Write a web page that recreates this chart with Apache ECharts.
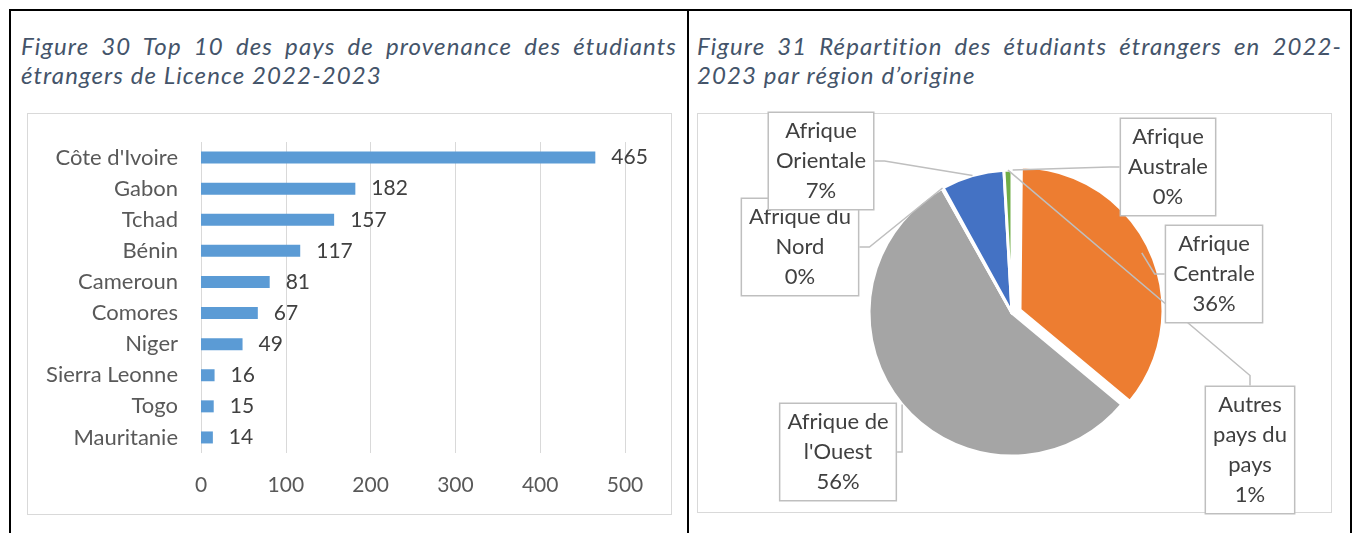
<!DOCTYPE html>
<html>
<head>
<meta charset="utf-8">
<script src="https://cdn.jsdelivr.net/npm/echarts@6/dist/echarts.min.js"></script>
<style>
  html, body { margin: 0; padding: 0; background: #fff; }
  #page { position: relative; width: 1360px; height: 533px; overflow: hidden; }
  .frame { position: absolute; left: 9px; top: 9px; width: 1339px; height: 540px;
           border: 2px solid #000; border-bottom: none; }
  .divider { position: absolute; left: 687px; top: 9px; width: 2px; height: 540px; background: #000; }
  .title { position: absolute; font-family: Lato, "DejaVu Sans", sans-serif; font-style: italic;
           font-size: 24px; color: #44546A; line-height: 29px; white-space: nowrap; letter-spacing: 1.1px; }
  .title .j { text-align: justify; text-align-last: justify; }
  .box { position: absolute; border: 1.5px solid #D9D9D9; box-sizing: border-box; }
  #chart { position: absolute; left: 0; top: 0; width: 1360px; height: 533px; }
</style>
</head>
<body>
<div id="page">
  <div class="frame"></div>
  <div class="divider"></div>
  <div class="title" style="left:21px; top:31px; width:656px;">
    <div class="j">Figure 30 Top 10 des pays de provenance des étudiants</div>
    <div>étrangers de Licence 2022-2023</div>
  </div>
  <div class="title" style="left:697px; top:31px; width:645px;">
    <div class="j">Figure 31 Répartition des étudiants étrangers en 2022-</div>
    <div>2023 par région d’origine</div>
  </div>
  <div class="box" style="left:27px; top:113px; width:645px; height:402px;"></div>
  <div class="box" style="left:697px; top:113px; width:635px; height:400px;"></div>
  <div id="chart"></div>
</div>
<script>
// Figure 30 : top 10 des pays (Licence 2022-2023)
var countries = ["Côte d'Ivoire", 'Gabon', 'Tchad', 'Bénin', 'Cameroun', 'Comores', 'Niger', 'Sierra Leonne', 'Togo', 'Mauritanie']
var studentCounts = [465, 182, 157, 117, 81, 67, 49, 16, 15, 14]
var xTicks = [0, 100, 200, 300, 400, 500]

// Figure 31 : répartition par région d'origine (parts estimées, en %)
var regions = ['Afrique Australe', 'Afrique Centrale', "Afrique de l'Ouest", 'Afrique du Nord', 'Afrique Orientale', 'Autres pays du pays']
var regionShares = [0.15, 35.9, 55.8, 0.15, 7.1, 0.9]
var regionLabels = ['Afrique\nAustrale', 'Afrique\nCentrale', "Afrique de\nl'Ouest", 'Afrique du\nNord', 'Afrique\nOrientale', 'Autres\npays du\npays']
var regionColors = ['#5B9BD5', '#ED7D31', '#A5A5A5', '#FFC000', '#4472C4', '#70AD47']
var explodedIdx = 1   // Afrique Centrale détachée

// positions des étiquettes (centre des cadres)
var labelPos = [[1168, 167], [1214, 274], [838, 452], [800, 247], [821, 161], [1250, 450]]

var FONT = 'Lato, "DejaVu Sans", sans-serif'
var total = regionShares.reduce(function (a, b) { return a + b }, 0)

function pieData(showExploded) {
  return regions.map(function (n, i) {
    var visible = (i === explodedIdx) === showExploded
    return {
      name: n,
      value: regionShares[i],
      itemStyle: visible
        ? { color: regionColors[i], borderColor: '#fff', borderWidth: 3 }
        : { color: 'rgba(0,0,0,0)', borderWidth: 0 }
    }
  })
}

var chart = echarts.init(document.getElementById('chart'))
chart.setOption({
  animation: false,
  grid: { left: 201, top: 142, width: 424, height: 311, containLabel: false },
  xAxis: {
    type: 'value',
    min: xTicks[0],
    max: xTicks[xTicks.length - 1],
    interval: 100,
    axisLine: { show: false },
    axisTick: { show: false },
    splitLine: { lineStyle: { color: '#D9D9D9', width: 1 } },
    axisLabel: { color: '#595959', fontSize: 21, fontFamily: FONT, margin: 22 }
  },
  yAxis: {
    type: 'category',
    inverse: true,
    data: countries,
    axisLine: { show: false },
    axisTick: { show: false },
    axisLabel: { color: '#595959', fontSize: 22, fontFamily: FONT, margin: 23 }
  },
  series: [
    {
      type: 'bar',
      data: studentCounts,
      barWidth: 12,
      itemStyle: { color: '#5B9BD5' },
      label: { show: true, position: 'right', distance: 16, color: '#404040', fontSize: 21, fontFamily: FONT }
    },
    {
      // part détachée (décalée du centre)
      type: 'pie',
      silent: true,
      center: [1020, 310],
      radius: 143,
      startAngle: 90,
      clockwise: true,
      data: pieData(true),
      label: { show: false },
      labelLine: { show: false },
      emphasis: { disabled: true }
    },
    {
      type: 'pie',
      center: [1012, 313],
      radius: 143,
      startAngle: 90,
      clockwise: true,
      avoidLabelOverlap: false,
      data: pieData(false),
      label: {
        show: true,
        position: 'outside',
        formatter: function (p) {
          return regionLabels[p.dataIndex] + '\n' + Math.round(p.value / total * 100) + '%'
        },
        color: '#404040',
        fontSize: 22,
        fontFamily: FONT,
        lineHeight: 30,
        align: 'center',
        backgroundColor: '#fff',
        borderColor: '#BFBFBF',
        borderWidth: 1.5,
        padding: [3, 7]
      },
      labelLine: { show: true, showAbove: true, length: 10, length2: 10, lineStyle: { color: '#BFBFBF', width: 1.5 } },
      labelLayout: function (p) {
        var pos = labelPos[p.dataIndex]
        return { x: pos[0], y: pos[1], align: 'center', verticalAlign: 'middle' }
      },
      emphasis: { disabled: true }
    }
  ]
})
</script>
</body>
</html>
